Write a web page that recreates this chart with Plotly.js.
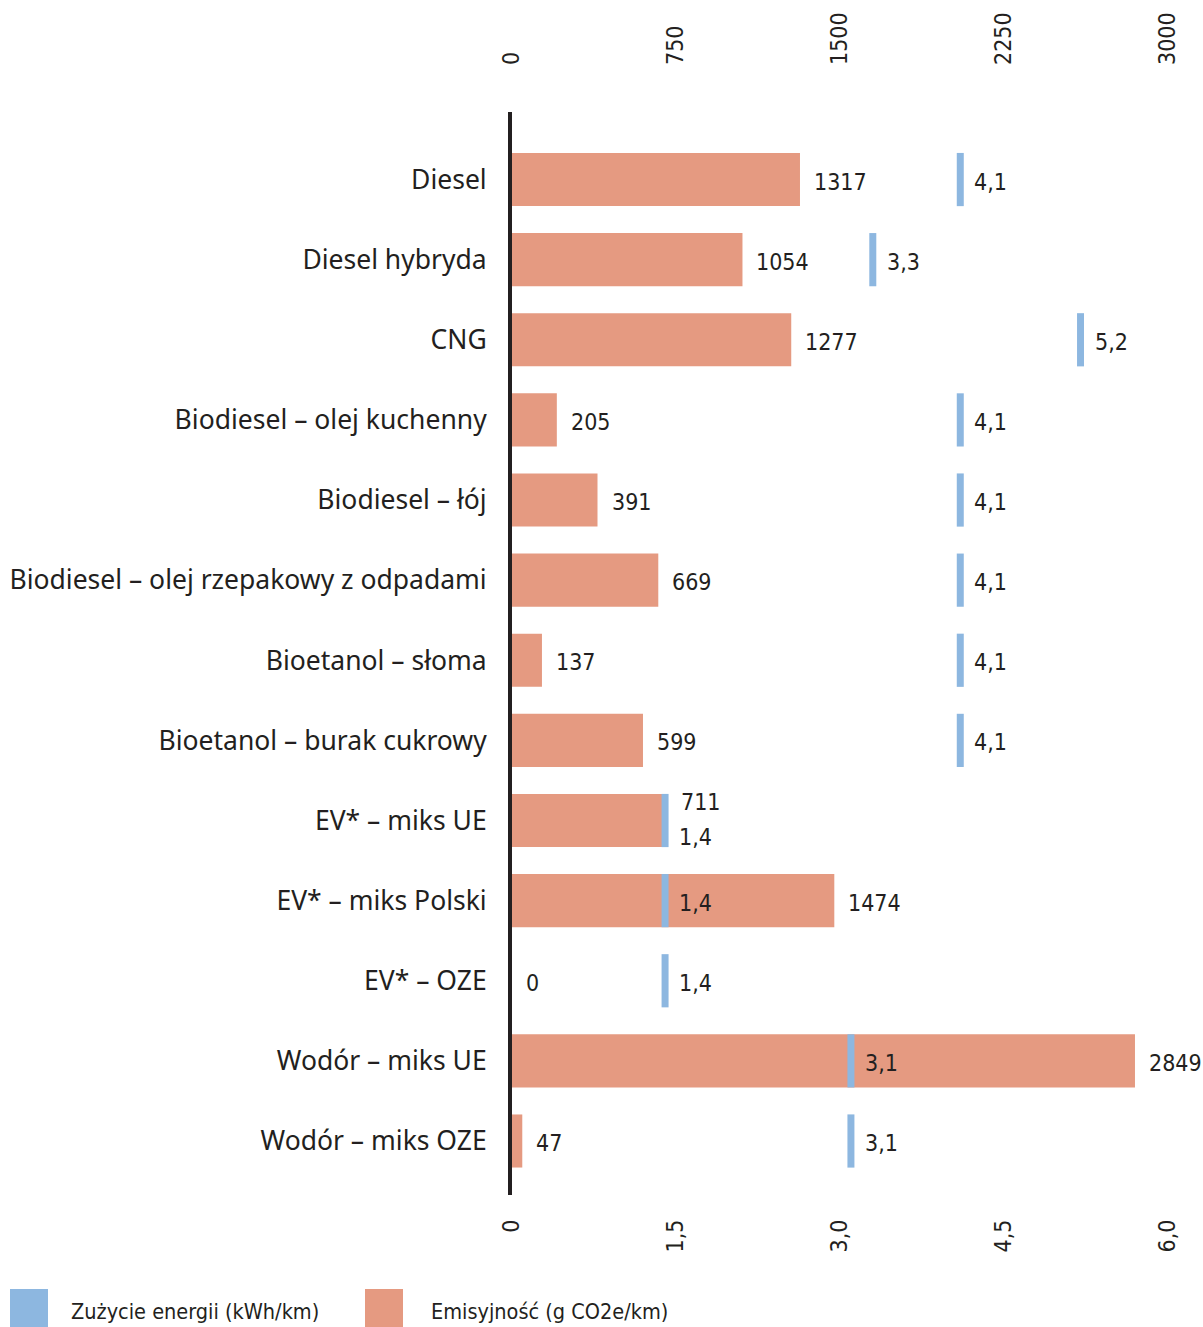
<!DOCTYPE html>
<html>
<head>
<meta charset="utf-8">
<script src="https://cdn.plot.ly/plotly-3.0.1.min.js"></script>
<style>
html,body{margin:0;padding:0;background:#fff;}
#chart{width:1203px;height:1327px;}
.annotation-text, .xtick text, .x2tick text { font-stretch: condensed; }
</style>
</head>
<body>
<div id="chart"></div>
<script>
// ---- data ----
const categories = [
  "Diesel",
  "Diesel hybryda",
  "CNG",
  "Biodiesel – olej kuchenny",
  "Biodiesel – łój",
  "Biodiesel – olej rzepakowy z odpadami",
  "Bioetanol – słoma",
  "Bioetanol – burak cukrowy",
  "EV* – miks UE",
  "EV* – miks Polski",
  "EV* – OZE",
  "Wodór – miks UE",
  "Wodór – miks OZE"
];
const emissions = [1317, 1054, 1277, 205, 391, 669, 137, 599, 711, 1474, 0, 2849, 47];
const energy = [4.1, 3.3, 5.2, 4.1, 4.1, 4.1, 4.1, 4.1, 1.4, 1.4, 1.4, 3.1, 3.1];
const emissionTicks = [0, 750, 1500, 2250, 3000];
const energyTickVals = [0, 1.5, 3.0, 4.5, 6.0];
const energyTickText = ["0", "1,5", "3,0", "4,5", "6,0"];
const seriesNames = ["Zużycie energii (kWh/km)", "Emisyjność (g CO2e/km)"];

// ---- style ----
const SALMON = "#e59a81";
const BLUE = "#8db7e0";
const DARK = "#231f20";
const NARROW = "'DejaVu Sans', sans-serif";
const LABEL = "'Noto Sans', Lato, sans-serif";

const W = 1203, H = 1327;
const M = {l: 512, r: 35, t: 112, b: 132};
const PW = W - M.l - M.r, PH = H - M.t - M.b;
const px2x = p => (p - M.l) / PW;
const py2y = p => (H - M.b - p) / PH;

const fmt = v => v.toFixed(1).replace('.', ',');

const traces = [
  {
    type: 'bar', orientation: 'h',
    x: emissions, y: categories,
    xaxis: 'x', yaxis: 'y',
    width: 0.6625,
    marker: {color: SALMON, line: {width: 0}},
    name: seriesNames[1], showlegend: false, hoverinfo: 'skip'
  },
  {
    type: 'scatter', mode: 'markers',
    x: energy, y: categories,
    xaxis: 'x2', yaxis: 'y',
    marker: {symbol: 'line-ns', size: 38, color: BLUE, line: {color: BLUE, width: 7}},
    name: seriesNames[0], showlegend: false, hoverinfo: 'skip', cliponaxis: false
  }
];

const annotations = [];
const emisShift = {"EV* – miks UE": 21};
const enShift = {"EV* – miks UE": -14};
categories.forEach((c, i) => {
  annotations.push({
    xref: 'x', yref: 'y', x: emissions[i], y: c,
    text: String(emissions[i]), showarrow: false,
    xanchor: 'left', yanchor: 'middle', xshift: 12, yshift: (emisShift[c] || 0) - 2,
    font: {family: NARROW, size: 23, color: DARK}
  });
  annotations.push({
    xref: 'x2', yref: 'y', x: energy[i], y: c,
    text: fmt(energy[i]), showarrow: false,
    xanchor: 'left', yanchor: 'middle', xshift: 12, yshift: (enShift[c] || 0) - 2,
    font: {family: NARROW, size: 23, color: DARK}
  });
});

const shapes = [
  {type: 'rect', xref: 'paper', yref: 'paper', x0: px2x(10), x1: px2x(48), y0: py2y(1327), y1: py2y(1289),
   fillcolor: BLUE, line: {width: 0}},
  {type: 'rect', xref: 'paper', yref: 'paper', x0: px2x(365), x1: px2x(403), y0: py2y(1327), y1: py2y(1289),
   fillcolor: SALMON, line: {width: 0}}
];
annotations.push({
  xref: 'paper', yref: 'paper', x: px2x(69), y: py2y(1311),
  text: seriesNames[0], showarrow: false, xanchor: 'left', yanchor: 'middle',
  font: {family: NARROW, size: 21.5, color: DARK}
});
annotations.push({
  xref: 'paper', yref: 'paper', x: px2x(429), y: py2y(1311),
  text: seriesNames[1], showarrow: false, xanchor: 'left', yanchor: 'middle',
  font: {family: NARROW, size: 21.5, color: DARK}
});

const layout = {
  width: W, height: H,
  margin: M,
  paper_bgcolor: '#fff', plot_bgcolor: '#fff',
  showlegend: false,
  xaxis: {
    side: 'top', range: [0, 3000], tickvals: emissionTicks,
    ticktext: emissionTicks.map(String),
    showgrid: false, zeroline: false, showline: false, ticks: '',
    tickangle: -90, ticklabelstandoff: 46,
    tickfont: {family: NARROW, size: 23, color: DARK}
  },
  xaxis2: {
    side: 'bottom', overlaying: 'x', range: [0, 6], tickvals: energyTickVals,
    ticktext: energyTickText,
    showgrid: false, zeroline: false, showline: false, ticks: '',
    tickangle: -90, ticklabelstandoff: 19,
    tickfont: {family: NARROW, size: 23, color: DARK}
  },
  yaxis: {
    type: 'category', categoryorder: 'array', categoryarray: categories,
    range: [12.674, -0.843],
    showgrid: false, zeroline: false,
    showline: true, linecolor: DARK, linewidth: 4,
    ticks: '', ticklabelstandoff: 16,
    tickfont: {family: LABEL, size: 26.5, color: DARK}
  },
  shapes: shapes,
  annotations: annotations
};

Plotly.newPlot('chart', traces, layout, {staticPlot: true, displayModeBar: false});
</script>
</body>
</html>
